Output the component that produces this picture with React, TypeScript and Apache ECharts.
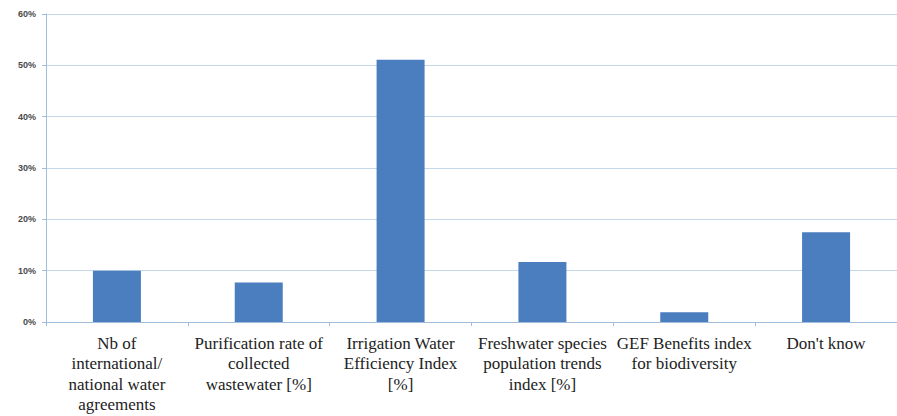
import React, { useEffect, useRef } from "react";
import * as echarts from "echarts";

const categories = [
  "Nb of\ninternational/\nnational water\nagreements",
  "Purification rate of\ncollected\nwastewater [%]",
  "Irrigation Water\nEfficiency Index\n[%]",
  "Freshwater species\npopulation trends\nindex [%]",
  "GEF Benefits index\nfor biodiversity",
  "Don't know",
];
const values = [10, 7.7, 51.1, 11.7, 1.9, 17.5];
const yMin = 0;
const yMax = 60;
const yStep = 10;

export default function App() {
  const ref = useRef<HTMLDivElement>(null);
  useEffect(() => {
    if (!ref.current) return;
    const chart = echarts.init(ref.current, null, { renderer: "svg" });
    chart.setOption({
      animation: false,
      backgroundColor: "#ffffff",
      grid: { left: 46, right: -11, top: 14, bottom: 94, containLabel: false },
      xAxis: {
        type: "category",
        data: categories,
        axisLine: { show: true, lineStyle: { color: "#9fbcd8", width: 1 } },
        axisTick: { show: true, length: 4, lineStyle: { color: "#9fbcd8" } },
        axisLabel: { show: false },
      },
      yAxis: {
        type: "value",
        min: yMin,
        max: yMax,
        interval: yStep,
        axisLine: { show: true, lineStyle: { color: "#9fbcd8", width: 1 } },
        axisTick: { show: true, length: 4, lineStyle: { color: "#9fbcd8" } },
        splitLine: { show: true, lineStyle: { color: "#c5d8ea", width: 1 } },
        axisLabel: {
          margin: 10,
          fontFamily: "Liberation Sans",
          fontSize: 9,
          fontWeight: "bold",
          color: "#4a4a4a",
          formatter: (v: number) => `${v}%`,
        },
      },
      series: [
        {
          type: "bar",
          data: values,
          barWidth: 48,
          itemStyle: { color: "#4a7ebf" },
        },
      ],
    });
    // Category labels placed through the library's own scales, one text per line
    const baseY = chart.convertToPixel({ yAxisIndex: 0 }, yMin) as number;
    const texts: any[] = [];
    categories.forEach((c, i) => {
      const cx = chart.convertToPixel({ xAxisIndex: 0 }, i) as number;
      c.split("\n").forEach((line, k) => {
        texts.push({
          type: "text",
          x: cx,
          y: baseY + 21 + k * 20.5,
          style: {
            text: line,
            fontFamily: "Liberation Serif",
            fontSize: 17,
            fill: "#222222",
            align: "center",
            verticalAlign: "middle",
          },
        });
      });
    });
    chart.setOption({ graphic: texts });
    return () => chart.dispose();
  }, []);
  return <div ref={ref} style={{ width: 897, height: 416, position: "absolute", left: 0, top: 0 }} />;
}
